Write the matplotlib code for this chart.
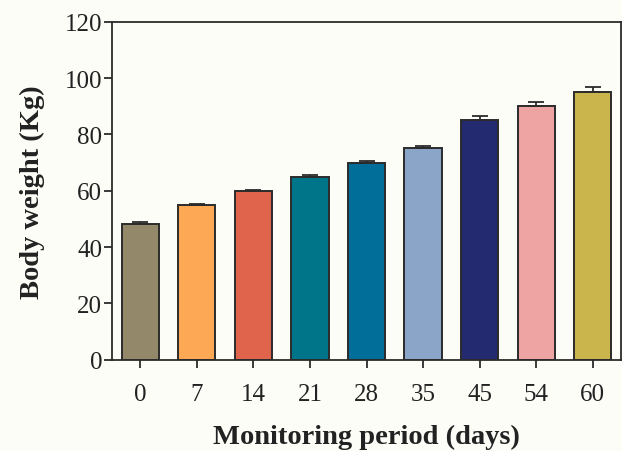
import matplotlib
matplotlib.use("Agg")
import matplotlib.pyplot as plt
import numpy as np

days = ["0", "7", "14", "21", "28", "35", "45", "54", "60"]
weights = [48.1, 55.0, 60.0, 65.0, 70.0, 75.0, 85.0, 90.0, 95.0]
errors = [0.7, 0.45, 0.35, 0.6, 0.7, 1.0, 1.4, 1.5, 1.8]
colors = ["#94886A", "#FCA854", "#E0634C", "#00758A", "#006E98",
          "#8BA5C9", "#232A70", "#EFA4A4", "#CAB54D"]
yticks = [0, 20, 40, 60, 80, 100, 120]

plt.rcParams['font.family'] = ['Liberation Serif', 'DejaVu Serif']

fig = plt.figure(figsize=(6.22, 4.52), dpi=100)
fig.patch.set_facecolor("#FDFDF8")
ax = fig.add_axes([112/622, 1-360.7/452, (621-112)/622, (360.7-22.7)/452])
ax.set_facecolor("#FDFDF8")

x = np.arange(len(days))
ax.bar(x, weights, width=0.66, color=colors, edgecolor="#2b2b2b", linewidth=1.4, zorder=2)
ax.errorbar(x, weights, yerr=[np.zeros(len(errors)), errors], fmt="none",
            ecolor="#2b2b2b", elinewidth=1.3, capsize=6, capthick=1.3, zorder=3)

ax.set_xlim(-0.5, len(days) - 0.5)
ax.set_ylim(0, 120)
ax.set_yticks(yticks)
ax.set_xticks(x)
ax.set_xticklabels(days)
for s in ax.spines.values():
    s.set_linewidth(1.3)
    s.set_color("#2b2b2b")
ax.tick_params(axis='both', direction='out', length=6, width=1.3, color="#2b2b2b",
               labelsize=18, labelcolor="#222222")
ax.tick_params(axis='x', pad=11)
ax.tick_params(axis='y', pad=1)

ax.set_xlabel("Monitoring period (days)", fontsize=20.5, fontweight='bold', labelpad=13, color="#222222")
ax.set_ylabel("Body weight (Kg)", fontsize=20.5, fontweight='bold', labelpad=14, color="#222222")

fig.savefig("out.png", dpi=100, facecolor=fig.get_facecolor())
